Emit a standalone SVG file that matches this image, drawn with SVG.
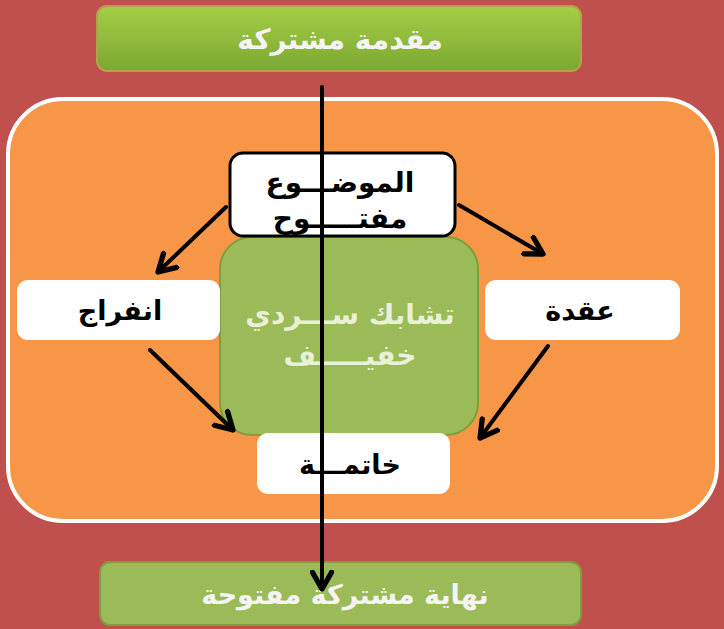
<svg xmlns="http://www.w3.org/2000/svg" width="724" height="629" viewBox="0 0 724 629">
<defs>
<linearGradient id="gTop" x1="0" y1="0" x2="0" y2="1">
<stop offset="0" stop-color="#A4CE45"/>
<stop offset="1" stop-color="#7BA733"/>
</linearGradient>
<marker id="ah" viewBox="0 0 10 10" refX="8" refY="5" markerWidth="6" markerHeight="6" orient="auto" markerUnits="strokeWidth">
<path d="M1,1 L8,5 L1,9" fill="none" stroke="#000" stroke-width="2.2" stroke-linecap="round" stroke-linejoin="round"/>
</marker>
<style>
.ar{font-family:"DejaVu Sans","Liberation Sans",sans-serif;font-weight:bold;text-anchor:middle}
.conn{stroke:#000;stroke-width:4;fill:none;stroke-linecap:round}
</style>
</defs>
<rect width="724" height="629" fill="#C0504D"/>
<g id="intro">
<rect x="97" y="6" width="484" height="65" rx="10" fill="url(#gTop)" stroke="#B5A04A" stroke-width="2"/>
<text class="ar" x="340" y="49" font-size="28" fill="#F4F4F4" direction="rtl">مقدمة مشتركة</text>
</g>
<g id="frame">
<rect x="8" y="99" width="709" height="422" rx="55" fill="#F79646" stroke="#fff" stroke-width="4"/>
</g>
<g id="center">
<rect x="220" y="237" width="258" height="198" rx="32" fill="#9BBB59" stroke="#7E9E3E" stroke-width="2"/>
<text class="ar" x="350" y="324" font-size="28" fill="#E8F0D8" direction="rtl">تشابك ســـردي</text>
<text class="ar" x="350" y="365" font-size="28" fill="#E8F0D8" direction="rtl">خفيـــــف</text>
</g>
<g id="topic">
<rect x="230" y="153" width="225" height="83" rx="13" fill="#fff" stroke="#000" stroke-width="3"/>
<text class="ar" x="340" y="192" font-size="28" fill="#000" direction="rtl">الموضـــوع</text>
<text class="ar" x="340" y="228" font-size="28" fill="#000" direction="rtl">مفتـــــوح</text>
</g>
<g id="release">
<rect x="17" y="280" width="203" height="60" rx="11" fill="#fff"/>
<text class="ar" x="120" y="320" font-size="27" fill="#000" direction="rtl">انفراج</text>
</g>
<g id="knot">
<rect x="485" y="280" width="195" height="60" rx="11" fill="#fff"/>
<text class="ar" x="580" y="320" font-size="27" fill="#000" direction="rtl">عقدة</text>
</g>
<g id="ending">
<rect x="257" y="433" width="193" height="61" rx="11" fill="#fff"/>
<text class="ar" x="350" y="474" font-size="27" fill="#000" direction="rtl">خاتمـــة</text>
</g>
<g id="outro">
<rect x="100" y="562" width="481" height="63" rx="10" fill="#9BBB59" stroke="#7E9E3E" stroke-width="2"/>
<text class="ar" x="345" y="604" font-size="27" fill="#F4F4F4" direction="rtl">نهاية  مشتركة مفتوحة</text>
</g>
<g id="connectors">
<line class="conn" x1="226" y1="207" x2="158" y2="272" marker-end="url(#ah)"/>
<line class="conn" x1="459" y1="205" x2="543" y2="254" marker-end="url(#ah)"/>
<line class="conn" x1="150" y1="350" x2="233" y2="430" marker-end="url(#ah)"/>
<line class="conn" x1="548" y1="346" x2="480" y2="438" marker-end="url(#ah)"/>
<line class="conn" x1="322" y1="87" x2="322" y2="589" marker-end="url(#ah)"/>
</g>
</svg>
